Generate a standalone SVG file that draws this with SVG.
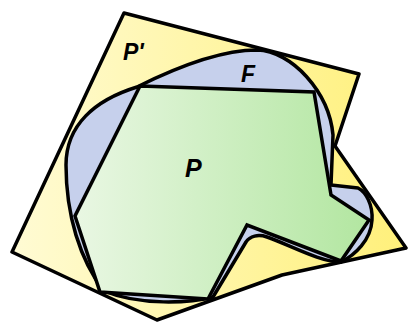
<svg xmlns="http://www.w3.org/2000/svg" width="408" height="322" viewBox="0 0 408 322">
<defs>
<linearGradient id="gy" x1="12" y1="0" x2="406" y2="0" gradientUnits="userSpaceOnUse">
<stop offset="0" stop-color="#fffbd4"/>
<stop offset="1" stop-color="#fff07a"/>
</linearGradient>
<linearGradient id="gg" x1="75" y1="0" x2="370" y2="0" gradientUnits="userSpaceOnUse">
<stop offset="0" stop-color="#e9f7e3"/>
<stop offset="1" stop-color="#b2e6a0"/>
</linearGradient>
<style>
.s{stroke:#000;stroke-width:3.5;stroke-linejoin:round}
.t{font-family:"Liberation Sans",Arial,sans-serif;font-weight:bold;font-style:italic;fill:#000}
</style>
</defs>
<g id="Pprime">
<polygon class="s" fill="url(#gy)" points="124,13 359,74 335,146 406,248 282,275 157,320 12,252"/>
<text class="t" x="123" y="60" font-size="23">P'</text>
</g>
<g id="F">
<path class="s" fill="#c6d0ec" d="M137,87 C175,68 220,50 257,50 C292,51 329,92 333,135 L331,185 L358,188 C366,192 373,205 372,220 C371,240 355,255 341,262 C320,262 290,245 267,237 C258,234 250,236 246,242 L213,297 C190,303 140,306 104,291 C80,260 66,215 66,165 C66,125 95,100 137,87 Z"/>
<text class="t" x="241" y="82" font-size="23">F</text>
</g>
<g id="P">
<polygon class="s" fill="url(#gg)" style="stroke-linejoin:miter" points="140,86 314,92 331,195 369,220 341,261 247,225 208,299 100,292 75,216"/>
<text class="t" x="185" y="177" font-size="25">P</text>
</g>
<g id="connectors"></g>
</svg>
